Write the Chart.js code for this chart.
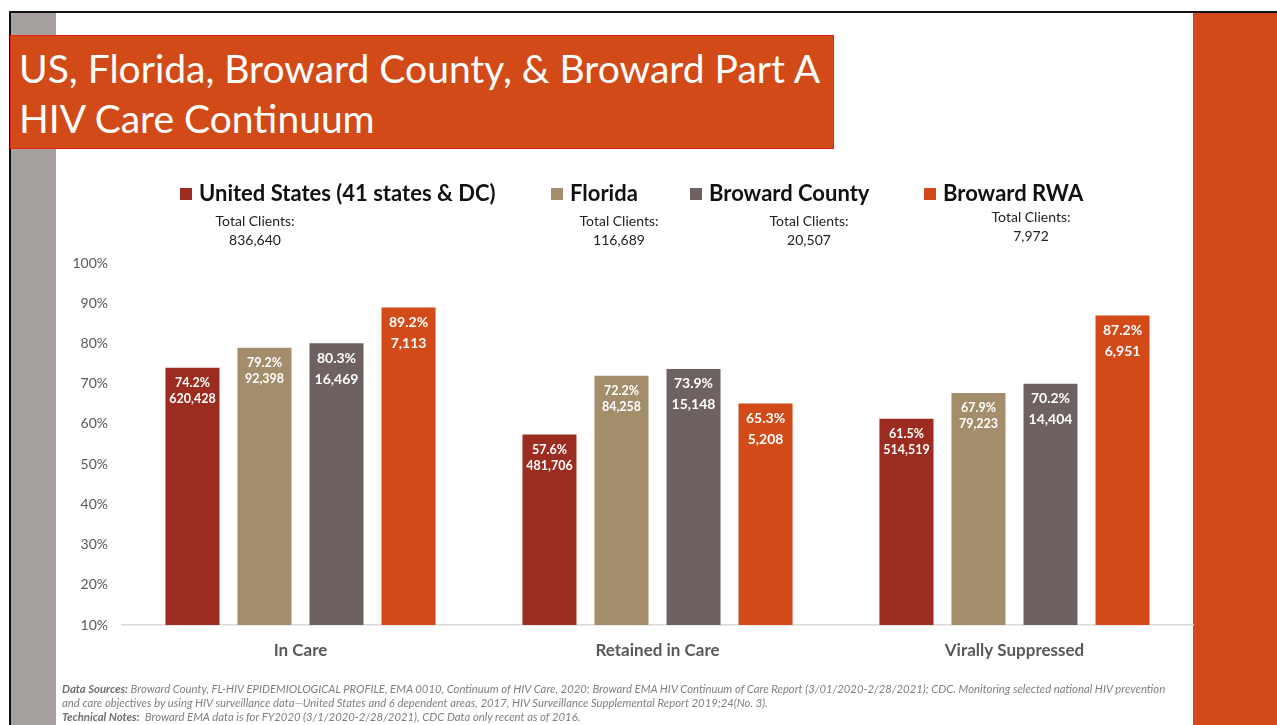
<!DOCTYPE html>
<html lang="en">
<head>
    <meta charset="UTF-8">
    <title>HIV Care Continuum</title>
    <script src="https://cdn.jsdelivr.net/npm/chart.js"></script>
    <style>
        body {
            margin: 0;
            width: 1277px;
            height: 725px;
            overflow: hidden;
            background: #fff;
            font-family: Lato, 'Open Sans', sans-serif;
            position: relative;
        }
        .frame-top { position: absolute; left: 9px; top: 11px; width: 1268px; height: 2px; background: #111; }
        .frame-left { position: absolute; left: 9px; top: 11px; width: 2px; height: 714px; background: #111; }
        .side-grey { position: absolute; left: 11px; top: 13px; width: 45px; height: 712px; background: #a6a19f; }
        .side-orange { position: absolute; left: 1193px; top: 13px; width: 84px; height: 712px; background: #d24a17; }
        .title-box {
            position: absolute;
            left: 10px; top: 35px;
            width: 824px; height: 114px;
            background: #d24a17;
            border: 1px solid #e2261a;
            color: #fff;
            font-size: 39px;
            line-height: 50px;
            padding: 7px 0 0 8px;
            box-sizing: border-box;
            white-space: nowrap;
        }
        .notes {
            position: absolute;
            left: 62px; top: 682px;
            font-size: 11.3px;
            line-height: 14px;
            font-style: italic;
            color: #7f7f7f;
            white-space: nowrap;
        }
        .notes b { color: #6f6f6f; }
        #wrap { position: absolute; left: 0; top: 0; width: 1277px; height: 725px; }
    </style>
</head>
<body>
<div class="frame-top"></div>
<div class="frame-left"></div>
<div class="side-grey"></div>
<div class="side-orange"></div>
<div class="title-box">US, Florida, Broward County, &amp; Broward Part A<br>HIV Care Continuum</div>

<div id="wrap"><canvas id="chart"></canvas></div>

<div class="notes">
    <b>Data Sources:</b> Broward County, FL-HIV EPIDEMIOLOGICAL PROFILE, EMA 0010, Continuum of HIV Care, 2020; Broward EMA HIV Continuum of Care Report (3/01/2020-2/28/2021); CDC. Monitoring selected national HIV prevention<br>
    and care objectives by using HIV surveillance data—United States and 6 dependent areas, 2017, HIV Surveillance Supplemental Report 2019;24(No. 3).<br>
    <b>Technical Notes:</b>&nbsp; Broward EMA data is for FY2020 (3/1/2020-2/28/2021), CDC Data only recent as of 2016.
</div>

<script>
    // Continuum stages
    const stages = ['In Care', 'Retained in Care', 'Virally Suppressed'];

    // Series names and total clients
    const seriesNames = ['United States (41 states & DC)', 'Florida', 'Broward County', 'Broward RWA'];
    const totalClients = ['836,640', '116,689', '20,507', '7,972'];

    // Percent of clients per stage
    const usPct = [74.2, 57.6, 61.5];
    const flPct = [79.2, 72.2, 67.9];
    const bcPct = [80.3, 73.9, 70.2];
    const rwaPct = [89.2, 65.3, 87.2];

    // Client counts per stage
    const usCount = ['620,428', '481,706', '514,519'];
    const flCount = ['92,398', '84,258', '79,223'];
    const bcCount = ['16,469', '15,148', '14,404'];
    const rwaCount = ['7,113', '5,208', '6,951'];

    const seriesColors = ['#9b2c1f', '#a38d6b', '#6d6261', '#d24a17'];

    // where each legend entry starts (square x) and where its totals are centred
    const legendSquareX = [180, 551, 690, 924];
    const legendTotalX = [255, 619, 809, 1031];
    const legendTotalY = [221, 221, 221, 217];
    const labelSizes = [12.5, 12.5, 14, 14];

    const pctSets = [usPct, flPct, bcPct, rwaPct];
    const countSets = [usCount, flCount, bcCount, rwaCount];

    const datasets = seriesNames.map((name, i) => ({
        label: name,
        data: pctSets[i],
        counts: countSets[i],
        backgroundColor: seriesColors[i],
        borderColor: 'rgba(255,255,255,0.35)',
        borderWidth: 1,
        categoryPercentage: 0.807,
        barPercentage: 0.778
    }));

    // legend with "Total Clients" under each entry
    const legendPlugin = {
        id: 'legendWithTotals',
        afterDraw(chart) {
            const ctx = chart.ctx;
            ctx.save();
            chart.data.datasets.forEach((ds, i) => {
                const sx = legendSquareX[i];
                ctx.fillStyle = ds.backgroundColor;
                ctx.fillRect(sx, 188, 12, 12);
                ctx.fillStyle = '#111';
                ctx.font = 'bold 22px Lato';
                ctx.textAlign = 'left';
                ctx.textBaseline = 'middle';
                ctx.fillText(ds.label, sx + 19, 194);

                ctx.font = '14px Lato';
                ctx.textAlign = 'center';
                ctx.fillStyle = '#222';
                ctx.fillText('Total Clients:', legendTotalX[i], legendTotalY[i]);
                ctx.fillText(totalClients[i], legendTotalX[i], legendTotalY[i] + 19);
            });
            ctx.restore();
        }
    };

    // percent and count printed inside the top of each bar
    const barLabelPlugin = {
        id: 'barLabels',
        afterDatasetsDraw(chart) {
            const ctx = chart.ctx;
            ctx.save();
            ctx.fillStyle = '#fff';
            ctx.textAlign = 'center';
            ctx.textBaseline = 'middle';
            chart.data.datasets.forEach((ds, i) => {
                const size = labelSizes[i];
                const gap = size > 13 ? 21 : 16;
                ctx.font = 'bold ' + size + 'px Lato';
                chart.getDatasetMeta(i).data.forEach((bar, j) => {
                    ctx.fillText(ds.data[j].toFixed(1) + '%', bar.x, bar.y + 16);
                    ctx.fillText(ds.counts[j], bar.x, bar.y + 16 + gap);
                });
            });
            ctx.restore();
        }
    };

    new Chart(document.getElementById('chart'), {
        type: 'bar',
        data: { labels: stages, datasets: datasets },
        options: {
            responsive: true,
            maintainAspectRatio: false,
            animation: false,
            layout: { padding: { left: 56, right: 84, top: 263, bottom: 60 } },
            plugins: {
                legend: { display: false },
                tooltip: { enabled: false }
            },
            scales: {
                x: {
                    grid: { display: false },
                    border: { display: true, color: '#d9d9d9', width: 1.5 },
                    ticks: {
                        color: '#595959',
                        font: { family: 'Lato', size: 17, weight: 'bold' },
                        padding: 7
                    },
                    afterFit(scale) { scale.height = 40; }
                },
                y: {
                    min: 10,
                    max: 100,
                    grid: { display: false, drawTicks: false },
                    border: { display: false },
                    ticks: {
                        stepSize: 10,
                        color: '#595959',
                        font: { family: 'Lato', size: 14 },
                        padding: 14,
                        callback: v => v + '%'
                    },
                    afterFit(scale) { scale.width = 66; }
                }
            }
        },
        plugins: [legendPlugin, barLabelPlugin]
    });
</script>
</body>
</html>
